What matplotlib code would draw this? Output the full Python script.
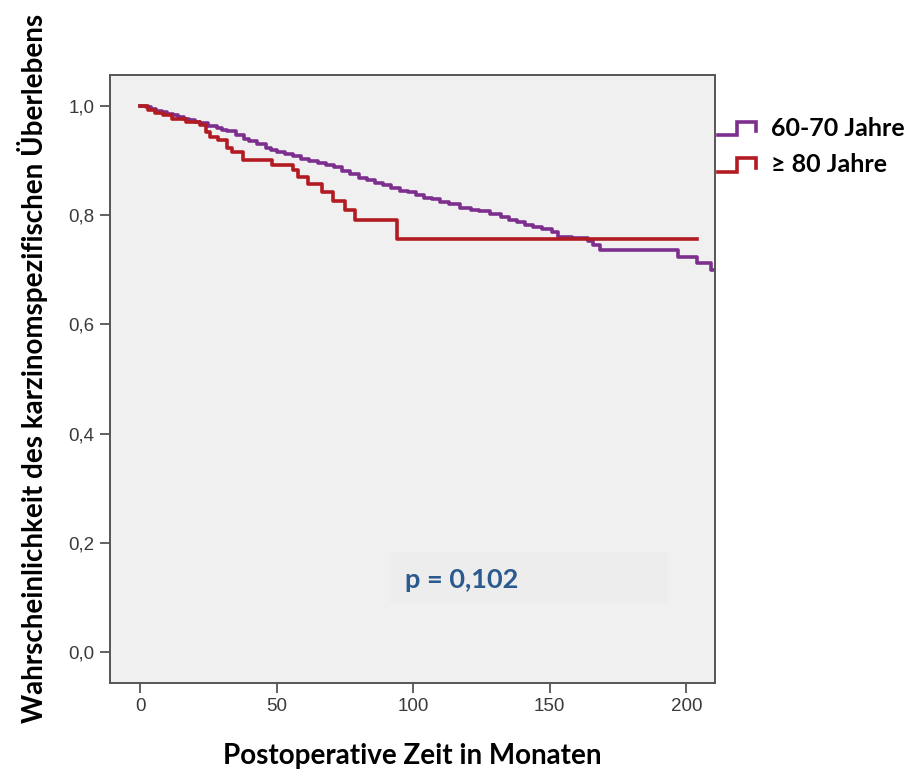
import matplotlib
matplotlib.use("Agg")
import matplotlib.pyplot as plt
from matplotlib.legend_handler import HandlerBase
from matplotlib.lines import Line2D
from matplotlib.patches import Rectangle

# Kaplan-Meier Kurven
red_t = [0, 3, 5.5, 8.5, 11.6, 17, 22, 24, 25.6, 28.6, 31.7, 33.6, 37.7, 48.2,
         56, 58, 61.6, 66.5, 70.8, 75, 78.8, 94, 204]
red_s = [1.0, 0.993, 0.987, 0.983, 0.976, 0.971, 0.965, 0.953, 0.944, 0.938,
         0.923, 0.916, 0.901, 0.892, 0.883, 0.870, 0.857, 0.843, 0.827, 0.809,
         0.791, 0.756, 0.756]

purple_t = [0, 2, 4, 6, 8, 10, 12, 14, 16, 18, 20, 22, 25, 28, 30, 32, 35, 38,
            40, 43, 46, 48, 50, 53, 56, 59, 62, 65, 68, 71, 74, 77, 80, 83, 86,
            89, 92, 95, 98, 101, 104, 107, 110, 113, 117, 121, 124, 128, 132,
            135, 138, 141, 144, 147, 151, 153, 158, 164, 166, 168.5, 197, 204,
            209, 211]
purple_s = [1.0, 0.998, 0.995, 0.992, 0.989, 0.986, 0.983, 0.980, 0.977, 0.974,
            0.971, 0.969, 0.964, 0.960, 0.957, 0.955, 0.947, 0.940, 0.936, 0.930,
            0.924, 0.920, 0.916, 0.912, 0.908, 0.904, 0.900, 0.896, 0.892, 0.888,
            0.882, 0.875, 0.869, 0.864, 0.860, 0.855, 0.850, 0.845, 0.842, 0.837,
            0.832, 0.829, 0.825, 0.820, 0.813, 0.810, 0.807, 0.802, 0.797, 0.792,
            0.788, 0.783, 0.779, 0.775, 0.770, 0.760, 0.758, 0.753, 0.745, 0.736,
            0.723, 0.712, 0.700, 0.700]

x_ticks = [0, 50, 100, 150, 200]
y_ticks = [0.0, 0.2, 0.4, 0.6, 0.8, 1.0]
y_labels = ["0,0", "0,2", "0,4", "0,6", "0,8", "1,0"]
group_names = ["60-70 Jahre", "\u2265 80 Jahre"]
p_text = "p = 0,102"

purple = "#7d2f8e"
red = "#b31b22"


class StepHandler(HandlerBase):
    # kleines Treppensymbol wie in SPSS
    def create_artists(self, legend, orig_handle, xdescent, ydescent,
                       width, height, fontsize, trans):
        x0, y0 = -xdescent, -ydescent
        xs = [x0, x0 + 0.5 * width, x0 + 0.5 * width, x0 + width, x0 + width]
        ys = [y0 + 0.05 * height, y0 + 0.05 * height, y0 + 0.8 * height,
              y0 + 0.8 * height, y0 + 0.25 * height]
        ln = Line2D(xs, ys, color=orig_handle.get_color(),
                    lw=orig_handle.get_linewidth(), solid_joinstyle="miter",
                    transform=trans)
        return [ln]


fig = plt.figure(figsize=(9.19, 7.72), dpi=100)
ax = fig.add_axes([0.1197, 0.1153, 0.6583, 0.7875])
ax.set_facecolor("#f0f0f0")

# leicht hellerer Kasten hinter dem p-Wert
ax.add_patch(Rectangle((91.6, 0.09), 101.8, 0.093, fc="#ededed", ec="none",
                       zorder=0.5))

l1, = ax.step(purple_t, purple_s, where="post", color=purple, lw=2.6)
l2, = ax.step(red_t, red_s, where="post", color=red, lw=2.6)

ax.set_xlim(-11, 210.5)
ax.set_ylim(-0.057, 1.057)
ax.set_xticks(x_ticks)
ax.set_yticks(y_ticks)
ax.set_yticklabels(y_labels)

for s in ax.spines.values():
    s.set_color("#555555")
    s.set_linewidth(1.4)
ax.tick_params(direction="out", length=7, width=1.3, color="#555555",
               labelsize=13.5, labelcolor="#3a3a3a", pad=4)
for lab in ax.get_xticklabels() + ax.get_yticklabels():
    lab.set_family("Liberation Sans")

ax.set_xlabel("Postoperative Zeit in Monaten", fontsize=20, fontweight="bold",
              family="Lato", labelpad=20)
ax.set_ylabel("Wahrscheinlichkeit des karzinomspezifischen \u00dcberlebens",
              fontsize=20, fontweight="bold", family="Lato")
ax.yaxis.set_label_coords(-0.1025, 0.518)

ax.text(117.6, 0.132, p_text, fontsize=19.5, fontweight="bold", color="#2b5a8e",
        family="Lato", va="center", ha="center")

fig.legend([l1, l2], group_names, loc="upper left",
           bbox_to_anchor=(0.757, 0.878), frameon=False,
           handler_map={Line2D: StepHandler()},
           prop=dict(family="Lato", weight="bold", size=18),
           handlelength=1.5, handletextpad=0.6, labelspacing=0.55)

fig.savefig("out.png", dpi=100)
